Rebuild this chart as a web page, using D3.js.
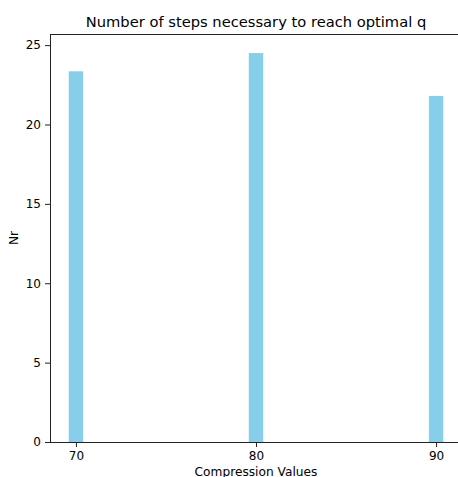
<!DOCTYPE html>
<html>
<head>
<meta charset="utf-8">
<script src="https://cdn.jsdelivr.net/npm/d3@7"></script>
<style>
  body { margin: 0; background: #fff; }
  text { font-family: "DejaVu Sans", sans-serif; fill: #000; }
</style>
</head>
<body>
<div id="chart"></div>
<script>
// Chart data
const compression = [70, 80, 90];
const steps = [23.35, 24.5, 21.8];
const yTicks = [0, 5, 10, 15, 20, 25];
const xTicks = [70, 80, 90];

const width = 458, height = 477;
const margin = { left: 50, top: 34, bottom: 35 };
const plotRight = 462;
const barWidth = 0.8;

const svg = d3.select("#chart").append("svg")
	.attr("width", width)
	.attr("height", height);

const xScale = d3.scaleLinear()
	.domain([68.56, 91.44])
	.range([margin.left, plotRight]);

const yScale = d3.scaleLinear()
	.domain([0, 25.7])
	.range([height - margin.bottom, margin.top]);

// Bars
svg.selectAll("rect.bar")
	.data(compression)
	.enter()
	.append("rect")
	.attr("class", "bar")
	.attr("x", (d) => xScale(d - barWidth / 2))
	.attr("width", (d) => xScale(d + barWidth / 2) - xScale(d - barWidth / 2))
	.attr("y", (d, i) => yScale(steps[i]))
	.attr("height", (d, i) => yScale(0) - yScale(steps[i]))
	.style("fill", "#87ceeb");

// Axes
const xAxis = d3.axisBottom(xScale).tickValues(xTicks).tickSize(5).tickPadding(4);
const yAxis = d3.axisLeft(yScale).tickValues(yTicks).tickSize(5).tickPadding(4);

svg.append("g")
	.attr("transform", `translate(0,${yScale(0)})`)
	.call(xAxis)
	.call((g) => g.select(".domain").remove());

svg.append("g")
	.attr("transform", `translate(${margin.left},0)`)
	.call(yAxis)
	.call((g) => g.select(".domain").remove());

svg.selectAll(".tick text").style("font-size", "12px").style("font-family", "DejaVu Sans");
svg.selectAll(".tick line").style("stroke", "#222");

// Spines
const spine = (x1, y1, x2, y2) =>
	svg.append("line")
		.attr("x1", x1).attr("y1", y1).attr("x2", x2).attr("y2", y2)
		.style("stroke", "#222")
		.style("stroke-width", 1)
		.attr("shape-rendering", "crispEdges");

spine(margin.left, yScale(25.7), margin.left, yScale(0));
spine(margin.left, yScale(0), plotRight, yScale(0));
spine(margin.left, yScale(25.7), plotRight, yScale(25.7));

// Title and labels
svg.append("text")
	.attr("x", (margin.left + plotRight) / 2)
	.attr("y", 27)
	.attr("text-anchor", "middle")
	.style("font-size", "14.7px")
	.text("Number of steps necessary to reach optimal q");

svg.append("text")
	.attr("x", (margin.left + plotRight) / 2)
	.attr("y", 476)
	.attr("text-anchor", "middle")
	.style("font-size", "12.2px")
	.text("Compression Values");

svg.append("text")
	.attr("transform", `translate(18,${(yScale(0) + yScale(25.7)) / 2}) rotate(-90)`)
	.attr("text-anchor", "middle")
	.style("font-size", "12.2px")
	.text("Nr");
</script>
</body>
</html>
